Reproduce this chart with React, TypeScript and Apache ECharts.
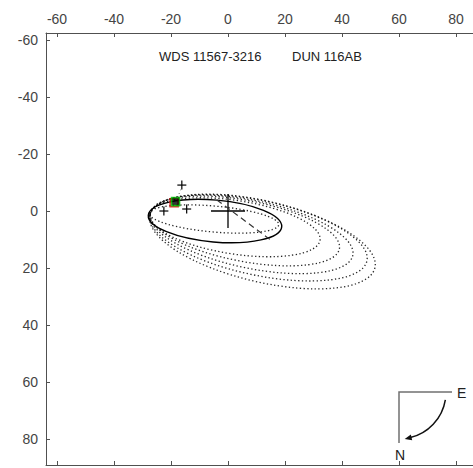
import React, { useEffect, useRef } from "react";
import * as echarts from "echarts";

// Tick labels
const xTicks = [-60, -40, -20, 0, 20, 40, 60, 80];
const yTicks = [-60, -40, -20, 0, 20, 40, 60, 80];

// Orbit ellipses: [centerX, centerY, semiMajor, semiMinor, tiltDeg]
const orbitSolid = [[-4.56, 3.51, 23.5, 7.37, 5]];
const orbitsDotted = [
  [-4.91, 2.81, 22.8, 4.56, 5],
  [2.46, 5.7, 30.2, 9.4, 8.7],
  [5.96, 7.0, 33.7, 10.7, 10.7],
  [8.25, 8.2, 36.3, 11.9, 11.7],
  [10.7, 9.4, 38.9, 13.1, 12.0],
  [12.1, 10.7, 40.5, 14.2, 13.2],
];

// Line of nodes
const nodeLine = [
  [-3.9, -3.9],
  [15.4, 10.5],
];

// Primary star
const primary = [[0, 0]];

// Measures (plus signs)
const measures = [
  [-16.2, -9.1],
  [-14.5, -0.7],
  [-22.5, 0.0],
];

// Special points
const greenPoint = [[-18.4, -3.3]];
const redPoint = [[-18.9, -2.9]];
const ocLine = [
  [-16.5, -7.6],
  [-17.8, -4.6],
];

const FONT = "'Liberation Sans', Arial, Helvetica, sans-serif";
const X_MIN = -63.86;
const Y_MIN = -62.46;
const PX_PER_UNIT = 2.85;
const PLOT = 432;

function ellipseRender(dotted: boolean) {
  return (params: any, api: any) => {
    const c = api.coord([api.value(0), api.value(1)]);
    const s = api.size([api.value(2), api.value(3)]);
    const ang = (api.value(4) * Math.PI) / 180;
    return {
      type: "ellipse",
      x: c[0],
      y: c[1],
      rotation: -ang,
      shape: { cx: 0, cy: 0, rx: Math.abs(s[0]), ry: Math.abs(s[1]) },
      style: {
        fill: "none",
        stroke: "#000",
        lineWidth: dotted ? 1.3 : 1.4,
        lineDash: dotted ? [1.3, 2.4] : null,
        opacity: dotted ? 0.85 : 1,
      },
    };
  };
}

function crossRender(half: number, lw: number) {
  return (params: any, api: any) => {
    const c = api.coord([api.value(0), api.value(1)]);
    return {
      type: "group",
      children: [
        {
          type: "line",
          shape: { x1: c[0] - half, y1: c[1], x2: c[0] + half, y2: c[1] },
          style: { stroke: "#000", lineWidth: lw },
        },
        {
          type: "line",
          shape: { x1: c[0], y1: c[1] - half, x2: c[0], y2: c[1] + half },
          style: { stroke: "#000", lineWidth: lw },
        },
      ],
    };
  };
}

export default function App() {
  const ref = useRef<HTMLDivElement>(null);

  useEffect(() => {
    if (!ref.current) return;
    const chart = echarts.init(ref.current, null, { renderer: "svg" });
    const xMax = X_MIN + PLOT / PX_PER_UNIT;
    const yMax = Y_MIN + PLOT / PX_PER_UNIT;
    const axisColor = "#505050";
    const labelColor = "#444";

    const arcCx = 399;
    const arcCy = 392;
    const arcR = 47;
    const endA = (77 * Math.PI) / 180;
    const px = arcCx + arcR * Math.cos(endA);
    const py = arcCy + arcR * Math.sin(endA);
    const dx = -Math.sin(endA);
    const dy = Math.cos(endA);
    const tip = [px + 5 * dx, py + 5 * dy];
    const base = [px - 2 * dx, py - 2 * dy];
    const nx = Math.cos(endA);
    const ny = Math.sin(endA);

    chart.setOption({
      animation: false,
      backgroundColor: "#fff",
      grid: {
        left: 46,
        top: 33,
        width: PLOT,
        height: PLOT,
        containLabel: false,
        outerBoundsMode: "none",
      },
      xAxis: [
        {
          type: "value",
          position: "top",
          min: X_MIN,
          max: xMax,
          axisLine: { show: true, onZero: false, lineStyle: { color: axisColor, width: 1 } },
          axisTick: {
            show: true,
            inside: true,
            length: 4,
            customValues: xTicks,
            lineStyle: { color: axisColor },
          },
          axisLabel: {
            show: true,
            customValues: xTicks,
            color: labelColor,
            fontSize: 14,
            fontFamily: FONT,
            margin: 7,
          },
          splitLine: { show: false },
        },
        {
          type: "value",
          position: "bottom",
          min: X_MIN,
          max: xMax,
          axisLine: { show: true, onZero: false, lineStyle: { color: axisColor, width: 1 } },
          axisTick: {
            show: true,
            inside: true,
            length: 4,
            customValues: xTicks,
            lineStyle: { color: axisColor },
          },
          axisLabel: { show: false },
          splitLine: { show: false },
        },
      ],
      yAxis: [
        {
          type: "value",
          position: "left",
          inverse: true,
          min: Y_MIN,
          max: yMax,
          axisLine: { show: true, onZero: false, lineStyle: { color: axisColor, width: 1 } },
          axisTick: {
            show: true,
            inside: true,
            length: 4,
            customValues: yTicks,
            lineStyle: { color: axisColor },
          },
          axisLabel: {
            show: true,
            customValues: yTicks,
            color: labelColor,
            fontSize: 14,
            fontFamily: FONT,
            margin: 8,
          },
          splitLine: { show: false },
        },
      ],
      graphic: [
        {
          type: "text",
          left: 159,
          top: 50,
          style: { text: "WDS 11567-3216", fontSize: 13, fontFamily: FONT, fill: "#222" },
        },
        {
          type: "text",
          left: 292,
          top: 50,
          style: { text: "DUN 116AB", fontSize: 13, fontFamily: FONT, fill: "#222" },
        },
        {
          type: "polyline",
          shape: { points: [[399, 443], [399, 392], [452, 392]] },
          style: { stroke: "#707070", lineWidth: 1.5, fill: "none" },
        },
        {
          type: "arc",
          shape: {
            cx: arcCx,
            cy: arcCy,
            r: arcR,
            startAngle: (9.5 * Math.PI) / 180,
            endAngle: endA,
            clockwise: true,
          },
          style: { stroke: "#111", lineWidth: 1.5, fill: "none" },
        },
        {
          type: "polygon",
          shape: {
            points: [
              tip,
              [base[0] + 3 * nx, base[1] + 3 * ny],
              [base[0] - 3 * nx, base[1] - 3 * ny],
            ],
          },
          style: { fill: "#111" },
        },
        {
          type: "text",
          x: 457,
          y: 386,
          style: { text: "E", fontSize: 14, fontFamily: FONT, fill: "#222" },
        },
        {
          type: "text",
          x: 395,
          y: 448,
          style: { text: "N", fontSize: 14, fontFamily: FONT, fill: "#222" },
        },
      ],
      series: [
        {
          type: "custom",
          name: "dotted orbits",
          renderItem: ellipseRender(true),
          data: orbitsDotted,
          silent: true,
        },
        {
          type: "custom",
          name: "orbit",
          renderItem: ellipseRender(false),
          data: orbitSolid,
          silent: true,
        },
        {
          type: "line",
          name: "nodes",
          data: nodeLine,
          symbol: "none",
          lineStyle: { color: "#333", width: 1.2, type: [6, 4] },
          silent: true,
        },
        {
          type: "line",
          name: "oc",
          data: ocLine,
          symbol: "none",
          lineStyle: { color: "#666", width: 1, type: [1, 3] },
          silent: true,
        },
        {
          type: "custom",
          name: "primary",
          renderItem: crossRender(17, 1.3),
          data: primary,
          silent: true,
        },
        {
          type: "custom",
          name: "measures",
          renderItem: crossRender(4.5, 1.2),
          data: measures,
          silent: true,
        },
        {
          type: "scatter",
          name: "red",
          data: redPoint,
          symbol: "rect",
          symbolSize: 8,
          itemStyle: { color: "rgba(0,0,0,0)", borderColor: "#e00000", borderWidth: 1.6 },
          silent: true,
        },
        {
          type: "scatter",
          name: "green",
          data: greenPoint,
          symbol: "rect",
          symbolSize: 8,
          itemStyle: { color: "#000", borderColor: "#00c000", borderWidth: 1.6 },
          silent: true,
        },
      ],
    });
    return () => chart.dispose();
  }, []);

  return (
    <div
      ref={ref}
      style={{ position: "fixed", left: 0, top: 0, width: 473, height: 468, background: "#fff" }}
    />
  );
}
